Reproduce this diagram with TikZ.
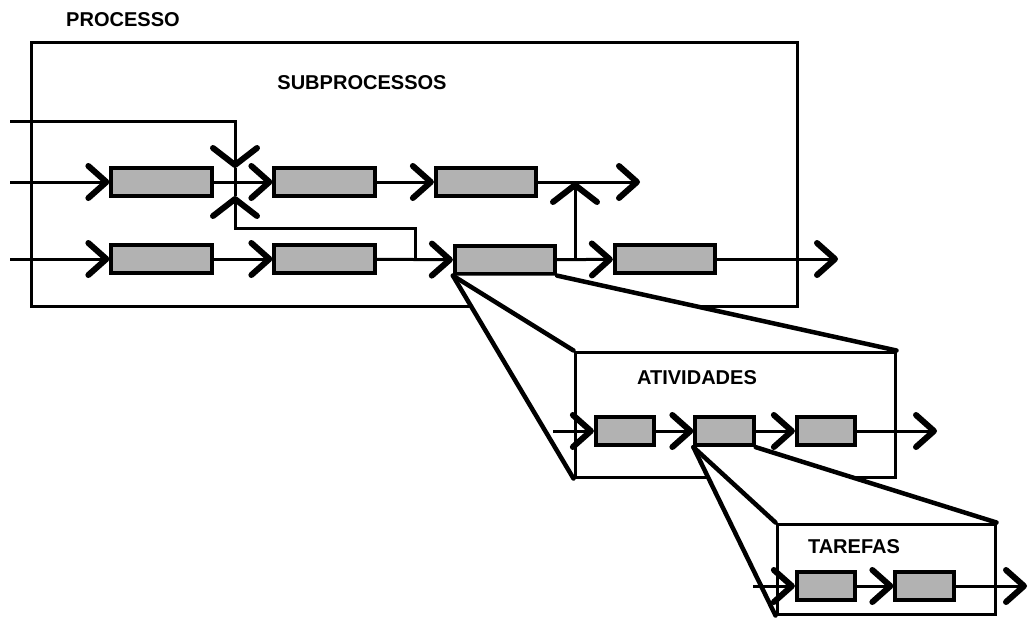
\documentclass[tikz,border=0pt]{standalone}
\usepackage{fontspec}
\setsansfont{Liberation Sans}
\usetikzlibrary{arrows.meta, positioning}
\tikzset{
    font=\sffamily,
    >={Straight Barb[length=3.6mm, width=6.4mm, line width=1.2mm, round]},
    % Frames
    frame/.style={rectangle, draw=black, line width=0.6mm, inner sep=0pt},
    zoomln/.style={draw=black, line width=0.9mm, line cap=round},
    % Shapes
    sub/.style={rectangle, draw=black, line width=0.75mm, fill=black!30,
                minimum width=20.1mm, minimum height=5.5mm, inner sep=0pt},
    act/.style={sub, minimum width=11.7mm, minimum height=5.7mm},
    % Flow & Labels
    flow/.style={->, line width=0.6mm},
    flowv/.style={-{Straight Barb[length=3.4mm, width=8.8mm, line width=1.2mm, round]}, line width=0.6mm},
    ttl/.style={font=\sffamily\bfseries\fontsize{11.4}{13}\selectfont, inner sep=0pt}
}

\begin{document}
\begin{tikzpicture}[x=0.2mm, y=-0.2mm]
\useasboundingbox (0,0) rectangle (1030,618);

\node[frame, minimum width=153mm, minimum height=52.8mm] (proc) at (414.5,174) {};
\node[ttl] (tproc) at (123,20) {PROCESSO};
\node[ttl] (tsub) at (362,83) {SUBPROCESSOS};

\node[sub] (s11) at (161.5,182) {};
\node[sub] (s12) at (324.5,182) {};
\node[sub] (s13) at (486,182) {};
\node[sub] (s21) at (161.5,259) {};
\node[sub] (s22) at (324.5,259) {};
\node[sub] (s23) at (505,260) {};
\node[sub] (s24) at (665,259) {};

\coordinate (in1) at (10,182);
\coordinate (in2) at (10,259);
\coordinate (in3) at (10,121);
\coordinate (out1) at (640,182);
\coordinate (out2) at (838,259);
\coordinate (mt) at (235,168);
\coordinate (mb) at (235,196);
\coordinate (br) at (415,259);
\coordinate (k) at (415,228);
\coordinate (j2) at (575,259);
\coordinate (j1) at (575,182);

\draw[flow] (in1) -- (s11);
\draw[flow] (s11) -- (s12);
\draw[flow] (s12) -- (s13);
\draw[flow] (s13) -- (out1);
\draw[flow] (in2) -- (s21);
\draw[flow] (s21) -- (s22);
\draw[flow] (s22) -- (s23);
\draw[flow] (s23) -- (s24);
\draw[flow] (s24) -- (out2);
\draw[flowv] (in3) -| (mt);
\draw[line width=0.6mm] (mt) -- (mb);
\draw[flowv] (br) -- (k) -| (mb);
\draw[flowv] (j2) -- (j1);

\node[frame, fill=white, minimum width=64mm, minimum height=25mm] (ativ) at (735,414.5) {};
\fill[white] (s23.south west) -- (s23.south east) -- (ativ.north east) -- (ativ.north west) -- (ativ.south west) -- cycle;
\draw[zoomln] (s23.south west) -- (ativ.north west);
\draw[zoomln] (s23.south west) -- (ativ.south west);
\draw[zoomln] (s23.south east) -- (ativ.north east);
\node[ttl] (tativ) at (697,378) {ATIVIDADES};

\node[act] (a1) at (625,431) {};
\node[act] (a2) at (724.5,431) {};
\node[act] (a3) at (826,431) {};
\coordinate (ain) at (553,431);
\coordinate (aout) at (937,431);

\draw[flow] (ain) -- (a1);
\draw[flow] (a1) -- (a2);
\draw[flow] (a2) -- (a3);
\draw[flow] (a3) -- (aout);

\node[frame, fill=white, minimum width=43.6mm, minimum height=18mm] (taref) at (886,569) {};
\fill[white] (a2.south west) -- (a2.south east) -- (taref.north east) -- (taref.north west) -- (taref.south west) -- cycle;
\draw[zoomln] (a2.south west) -- (taref.north west);
\draw[zoomln] (a2.south west) -- (taref.south west);
\draw[zoomln] (a2.south east) -- (taref.north east);
\node[ttl] (ttaref) at (854,547) {TAREFAS};

\node[act] (t1) at (826,586) {};
\node[act] (t2) at (924.5,586) {};
\coordinate (tin) at (753,586);
\coordinate (tout) at (1027,586);

\draw[flow] (tin) -- (t1);
\draw[flow] (t1) -- (t2);
\draw[flow] (t2) -- (tout);

\end{tikzpicture}
\end{document}
